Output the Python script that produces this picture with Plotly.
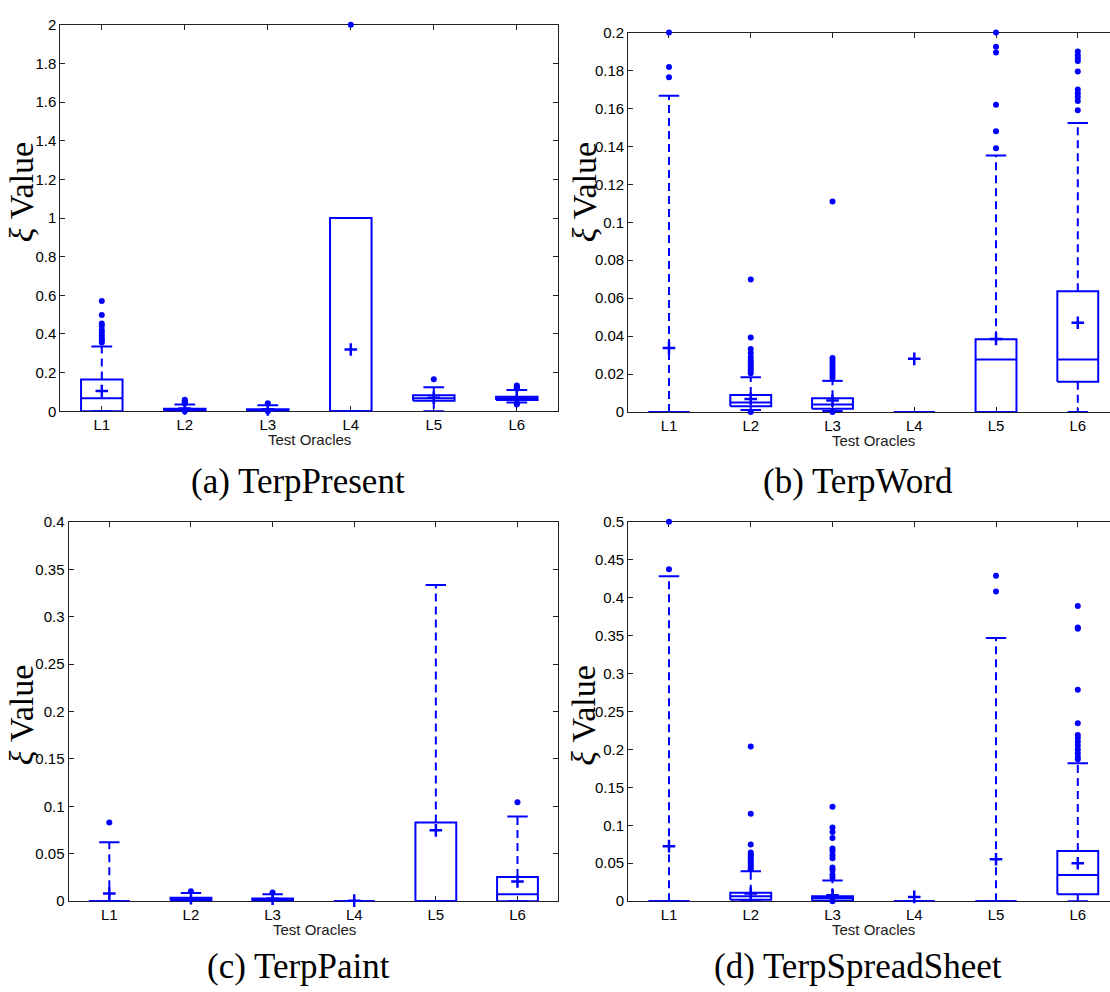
import plotly.graph_objects as go

W, H = 1110, 992

categories = ["L1", "L2", "L3", "L4", "L5", "L6"]

# ---------- (a) TerpPresent ----------
a_q1 = [0, 0.003, 0.002, 0, 0.055, 0.058]
a_med = [0.068, 0.007, 0.005, 0, 0.068, 0.067]
a_q3 = [0.165, 0.013, 0.011, 1.0, 0.083, 0.075]
a_lo = [0, 0.002, 0, 0, 0, 0.045]
a_hi = [0.335, 0.035, 0.031, 1.0, 0.124, 0.110]
a_mean = [0.105, 0.015, 0.010, 0.32, 0.07, 0.068]
a_out = [
    [0.356, 0.366, 0.378, 0.392, 0.407, 0.42, 0.441, 0.454, 0.498, 0.57],
    [0.040, 0.045, 0.050, 0.055, 0.060, 0.0],
    [0.041, 0.0],
    [2.0],
    [0.166],
    [0.116, 0.122, 0.128, 0.134, 0.04, 0.035],
]
a_ticks = [0, 0.2, 0.4, 0.6, 0.8, 1, 1.2, 1.4, 1.6, 1.8, 2]
a_ticktext = ["0", "0.2", "0.4", "0.6", "0.8", "1", "1.2", "1.4", "1.6", "1.8", "2"]

# ---------- (b) TerpWord ----------
b_q1 = [0, 0.003, 0.0017, 0, 0, 0.0159]
b_med = [0, 0.005, 0.004, 0, 0.0276, 0.0276]
b_q3 = [0, 0.009, 0.0073, 0, 0.0383, 0.0636]
b_lo = [0, 0.001, 0.0005, 0, 0, 0]
b_hi = [0.1667, 0.0183, 0.0164, 0, 0.1352, 0.1523]
b_mean = [0.0337, 0.0069, 0.006, 0.028, 0.0385, 0.047]
b_out = [
    [0.1765, 0.1819, 0.2],
    [0.0204, 0.0218, 0.0232, 0.0245, 0.0259, 0.0273, 0.029, 0.0311, 0.0332, 0.0392, 0.0698, 0.0],
    [0.018, 0.0195, 0.021, 0.0225, 0.024, 0.0255, 0.027, 0.0285, 0.111, 0.0],
    [],
    [0.139, 0.148, 0.162, 0.1895, 0.1926, 0.2],
    [0.159, 0.164, 0.166, 0.168, 0.170, 0.1795, 0.185, 0.1865, 0.188, 0.19],
]
b_ticks = [0, 0.02, 0.04, 0.06, 0.08, 0.1, 0.12, 0.14, 0.16, 0.18, 0.2]
b_ticktext = ["0", "0.02", "0.04", "0.06", "0.08", "0.1", "0.12", "0.14", "0.16", "0.18", "0.2"]

# ---------- (c) TerpPaint ----------
c_q1 = [0, 0.0008, 0.0005, 0, 0, 0]
c_med = [0, 0.002, 0.0015, 0, 0, 0.0073]
c_q3 = [0, 0.0035, 0.0028, 0, 0.083, 0.0255]
c_lo = [0, 0, 0, 0, 0, 0]
c_hi = [0.0622, 0.0086, 0.0073, 0, 0.3336, 0.0892]
c_mean = [0.008, 0.003, 0.0025, 0.0005, 0.0747, 0.0207]
c_out = [[0.083], [0.0104], [0.009], [], [], [0.1044]]
c_ticks = [0, 0.05, 0.1, 0.15, 0.2, 0.25, 0.3, 0.35, 0.4]
c_ticktext = ["0", "0.05", "0.1", "0.15", "0.2", "0.25", "0.3", "0.35", "0.4"]

# ---------- (d) TerpSpreadSheet ----------
d_q1 = [0, 0.002, 0.001, 0, 0, 0.009]
d_med = [0, 0.0065, 0.004, 0, 0, 0.0345]
d_q3 = [0, 0.0112, 0.0065, 0, 0, 0.066]
d_lo = [0, 0, 0, 0, 0, 0]
d_hi = [0.4283, 0.0393, 0.0272, 0, 0.3467, 0.1818]
d_mean = [0.0725, 0.010, 0.0078, 0.0056, 0.0553, 0.050]
d_out = [
    [0.4374, 0.5],
    [0.042, 0.044, 0.047, 0.050, 0.053, 0.056, 0.059, 0.0615, 0.064, 0.0747, 0.1153, 0.2038],
    [0.0307, 0.035, 0.041, 0.0445, 0.0566, 0.0605, 0.066, 0.0695, 0.0833, 0.0911, 0.0972, 0.1243, 0.0],
    [],
    [0.408, 0.4288],
    [0.187, 0.19, 0.195, 0.2, 0.205, 0.21, 0.215, 0.219, 0.2345, 0.2785, 0.359, 0.3605, 0.389],
]
d_ticks = [0, 0.05, 0.1, 0.15, 0.2, 0.25, 0.3, 0.35, 0.4, 0.45, 0.5]
d_ticktext = ["0", "0.05", "0.1", "0.15", "0.2", "0.25", "0.3", "0.35", "0.4", "0.45", "0.5"]

captions = ["(a) TerpPresent", "(b) TerpWord", "(c) TerpPaint", "(d) TerpSpreadSheet"]
xlabel = "Test Oracles"
ylabel = "<i>ξ</i> Value"

BLUE = "#0000ff"
AX = "#222222"
BOX_HW = 0.25
CAP_HW = 0.125

panels = [
    dict(q1=a_q1, med=a_med, q3=a_q3, lo=a_lo, hi=a_hi, mean=a_mean, out=a_out,
         ticks=a_ticks, tt=a_ticktext, yr=[0, 2],
         px=(60.3, 558.3), xr=[0.5, 6.5], py=(16, 409.3), mirror_y=True,
         ylab=(21.5, 187), xlab=(309, 438), cap=(297.5, 481)),
    dict(q1=b_q1, med=b_med, q3=b_q3, lo=b_lo, hi=b_hi, mean=b_mean, out=b_out,
         ticks=b_ticks, tt=b_ticktext, yr=[0, 0.2],
         px=(628.1, 1110), xr=[0.5, 6.394], py=(24, 410), mirror_y=False,
         ylab=(584.5, 187), xlab=(873.5, 439), cap=(858.3, 481)),
    dict(q1=c_q1, med=c_med, q3=c_q3, lo=c_lo, hi=c_hi, mean=c_mean, out=c_out,
         ticks=c_ticks, tt=c_ticktext, yr=[0, 0.4],
         px=(68.5, 558.3), xr=[0.5, 6.5], py=(522, 907.7), mirror_y=True,
         ylab=(21.5, 719), xlab=(314, 936.5), cap=(298.3, 974)),
    dict(q1=d_q1, med=d_med, q3=d_q3, lo=d_lo, hi=d_hi, mean=d_mean, out=d_out,
         ticks=d_ticks, tt=d_ticktext, yr=[0, 0.5],
         px=(628.1, 1110), xr=[0.5, 6.394], py=(521.7, 907.7), mirror_y=False,
         ylab=(584, 719), xlab=(873, 936.5), cap=(857.5, 974)),
]

fig = go.Figure()
layout = dict(
    width=W, height=H, margin=dict(l=0, r=0, t=0, b=0),
    paper_bgcolor="white", plot_bgcolor="white", showlegend=False,
    annotations=[],
)

for k, p in enumerate(panels):
    n = k + 1
    xa = "x" if n == 1 else f"x{n}"
    ya = "y" if n == 1 else f"y{n}"
    bx, by, wx, wy, cx, cy = [], [], [], [], [], []
    ox, oy = [], []
    for i in range(len(categories)):
        x = i + 1
        q1, md, q3, lo, hi = p["q1"][i], p["med"][i], p["q3"][i], p["lo"][i], p["hi"][i]
        # box outline + median
        bx += [x - BOX_HW, x + BOX_HW, x + BOX_HW, x - BOX_HW, x - BOX_HW, None,
               x - BOX_HW, x + BOX_HW, None]
        by += [q1, q1, q3, q3, q1, None, md, md, None]
        # whiskers (dashed)
        if hi > q3:
            wx += [x, x, None]
            wy += [q3, hi, None]
        if lo < q1:
            wx += [x, x, None]
            wy += [q1, lo, None]
        # caps
        cx += [x - CAP_HW, x + CAP_HW, None, x - CAP_HW, x + CAP_HW, None]
        cy += [hi, hi, None, lo, lo, None]
        for v in p["out"][i]:
            ox.append(x)
            oy.append(v)

    common = dict(xaxis=xa, yaxis=ya, hoverinfo="skip", cliponaxis=False)
    fig.add_trace(go.Scatter(x=wx, y=wy, mode="lines",
                             line=dict(color=BLUE, width=2, dash="8px,5px"), **common))
    fig.add_trace(go.Scatter(x=bx, y=by, mode="lines",
                             line=dict(color=BLUE, width=2), **common))
    fig.add_trace(go.Scatter(x=cx, y=cy, mode="lines",
                             line=dict(color=BLUE, width=2), **common))
    fig.add_trace(go.Scatter(x=ox, y=oy, mode="markers",
                             marker=dict(color=BLUE, size=6, symbol="circle"), **common))
    fig.add_trace(go.Scatter(x=[i + 1 for i in range(len(categories))], y=p["mean"],
                             mode="markers",
                             marker=dict(symbol="cross-thin", size=9,
                                         line=dict(color=BLUE, width=2.5)), **common))

    xd = [p["px"][0] / W, p["px"][1] / W]
    yd = [1 - p["py"][1] / H, 1 - p["py"][0] / H]
    layout["xaxis" if n == 1 else f"xaxis{n}"] = dict(
        domain=xd, range=p["xr"], anchor=ya,
        tickvals=[i + 1 for i in range(len(categories))], ticktext=categories,
        ticks="inside", ticklen=5, tickcolor=AX, tickwidth=1,
        showline=True, linecolor=AX, linewidth=1, mirror="allticks",
        showgrid=False, zeroline=False, layer="below traces",
        tickfont=dict(family="Liberation Sans, Arial, sans-serif", size=15, color="black"),
    )
    layout["yaxis" if n == 1 else f"yaxis{n}"] = dict(
        domain=yd, range=p["yr"], anchor=xa,
        tickvals=p["ticks"], ticktext=p["tt"],
        ticks="inside", ticklen=5, tickcolor=AX, tickwidth=1,
        showline=True, linecolor=AX, linewidth=1,
        mirror="allticks" if p["mirror_y"] else False,
        showgrid=False, zeroline=False, layer="below traces",
        tickfont=dict(family="Liberation Sans, Arial, sans-serif", size=15, color="black"),
    )
    layout["annotations"] += [
        dict(text=ylabel, x=p["ylab"][0] / W, y=1 - p["ylab"][1] / H,
             xref="paper", yref="paper", xanchor="center", yanchor="middle",
             textangle=-90, showarrow=False,
             font=dict(family="Liberation Serif, Times New Roman, serif", size=34, color="black")),
        dict(text=xlabel, x=p["xlab"][0] / W, y=1 - p["xlab"][1] / H,
             xref="paper", yref="paper", xanchor="center", yanchor="middle",
             showarrow=False,
             font=dict(family="Liberation Sans, Arial, sans-serif", size=15, color="#1a1a1a")),
        dict(text=captions[k], x=p["cap"][0] / W, y=1 - p["cap"][1] / H,
             xref="paper", yref="paper", xanchor="center", yanchor="middle",
             showarrow=False,
             font=dict(family="Liberation Serif, Times New Roman, serif", size=35, color="black")),
    ]

fig.update_layout(**layout)
fig.write_html("out.html")
